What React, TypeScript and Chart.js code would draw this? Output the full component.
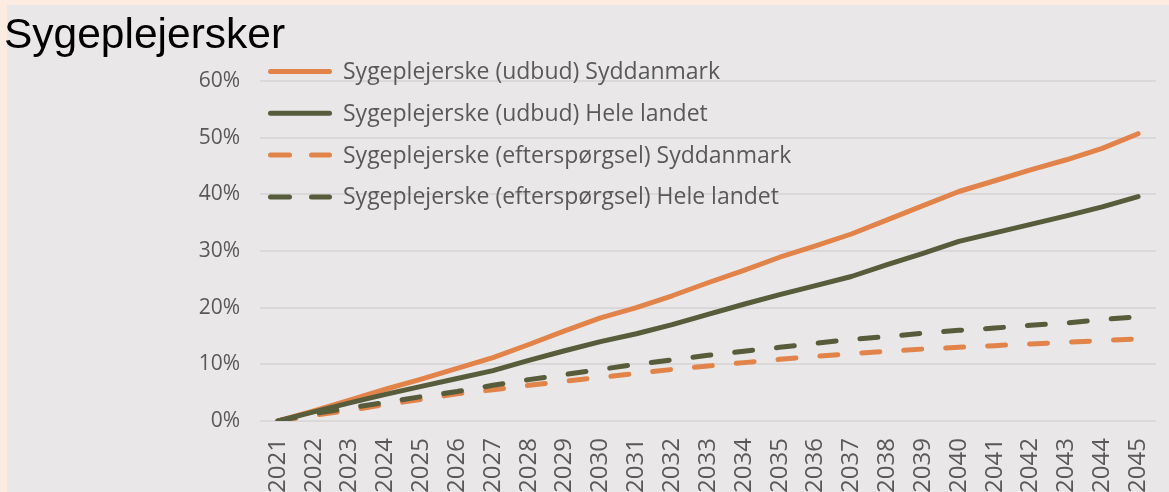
import React, { useEffect, useRef } from "react";
import { Chart, registerables } from "chart.js";

Chart.register(...registerables);

const titleText = "Sygeplejersker";

const years = [
  "2021", "2022", "2023", "2024", "2025", "2026", "2027", "2028", "2029", "2030",
  "2031", "2032", "2033", "2034", "2035", "2036", "2037", "2038", "2039", "2040",
  "2041", "2042", "2043", "2044", "2045",
];

const seriesLabels = [
  "Sygeplejerske (udbud) Syddanmark",
  "Sygeplejerske (udbud) Hele landet",
  "Sygeplejerske (efterspørgsel) Syddanmark",
  "Sygeplejerske (efterspørgsel) Hele landet",
];

// values in percent
const udbudSyddanmark = [
  0, 1.8, 3.7, 5.6, 7.4, 9.3, 11.2, 13.5, 15.9, 18.2,
  20.0, 22.1, 24.4, 26.6, 28.9, 30.9, 33.0, 35.5, 38.0, 40.5,
  42.4, 44.3, 46.1, 48.1, 50.7,
];
const udbudHeleLandet = [
  0, 1.6, 3.2, 4.7, 6.1, 7.5, 8.9, 10.7, 12.4, 14.0,
  15.4, 17.0, 18.8, 20.6, 22.3, 23.9, 25.5, 27.6, 29.6, 31.7,
  33.2, 34.7, 36.2, 37.8, 39.6,
];
const efterspSyddanmark = [
  0, 1.0, 1.9, 2.9, 3.8, 4.8, 5.5, 6.3, 7.0, 7.7,
  8.4, 9.1, 9.7, 10.3, 10.9, 11.4, 11.9, 12.3, 12.7, 13.0,
  13.3, 13.6, 13.9, 14.2, 14.5,
];
const efterspHeleLandet = [
  0, 1.3, 2.3, 3.3, 4.3, 5.2, 6.3, 7.3, 8.2, 9.1,
  10.0, 10.8, 11.6, 12.3, 13.0, 13.7, 14.4, 14.9, 15.5, 16.0,
  16.4, 16.9, 17.3, 17.9, 18.4,
];

const yMin = 0;
const yMax = 60;
const yStep = 10;

const ORANGE = "#E2834A";
const GREEN = "#575C3B";
const TEXT = "#595959";

export default function App() {
  const ref = useRef<HTMLCanvasElement>(null);

  useEffect(() => {
    if (!ref.current) return;

    const legendPlugin = {
      id: "insideLegend",
      afterDatasetsDraw(chart: any) {
        const ctx = chart.ctx;
        const area = chart.chartArea;
        const x0 = area.left + 10.5;
        const x1 = area.left + 69.5;
        const tx = area.left + 83;
        ctx.save();
        chart.data.datasets.forEach((d: any, i: number) => {
          const y = area.top - 9.5 + i * 41.8;
          ctx.beginPath();
          ctx.strokeStyle = d.borderColor;
          ctx.lineWidth = 5;
          ctx.lineCap = "round";
          ctx.setLineDash(d.borderDash && d.borderDash.length ? [19, 22] : []);
          ctx.moveTo(x0, y);
          ctx.lineTo(x1, y);
          ctx.stroke();
          ctx.setLineDash([]);
          ctx.fillStyle = TEXT;
          ctx.font = '23px "Open Sans"';
          ctx.textBaseline = "middle";
          ctx.textAlign = "left";
          ctx.fillText(d.label, tx, y + 1);
        });
        ctx.restore();
      },
    };

    const common = {
      borderWidth: 5,
      pointRadius: 0,
      pointHoverRadius: 0,
      tension: 0,
      fill: false,
      borderCapStyle: "round" as const,
      borderJoinStyle: "round" as const,
    };

    const chart = new Chart(ref.current, {
      type: "line",
      data: {
        labels: years,
        datasets: [
          { ...common, label: seriesLabels[0], data: udbudSyddanmark, borderColor: ORANGE, backgroundColor: ORANGE, order: 3 },
          { ...common, label: seriesLabels[1], data: udbudHeleLandet, borderColor: GREEN, backgroundColor: GREEN, order: 2 },
          { ...common, label: seriesLabels[2], data: efterspSyddanmark, borderColor: ORANGE, backgroundColor: ORANGE, borderDash: [18, 24], order: 1 },
          { ...common, label: seriesLabels[3], data: efterspHeleLandet, borderColor: GREEN, backgroundColor: GREEN, borderDash: [18, 24], order: 0 },
        ],
      },
      options: {
        responsive: false,
        animation: false,
        devicePixelRatio: 1,
        layout: { padding: { left: 0, right: 13, top: 81, bottom: 0 } },
        plugins: {
          legend: { display: false },
          tooltip: { enabled: false },
          title: { display: false },
        },
        scales: {
          x: {
            type: "category",
            offset: true,
            grid: { display: false, drawTicks: false },
            border: { display: false },
            ticks: {
              color: TEXT,
              font: { family: "Open Sans", size: 24 },
              minRotation: 90,
              maxRotation: 90,
              autoSkip: false,
              padding: 17,
            },
            afterFit(scale: any) {
              scale.height = 71;
              scale.paddingLeft = 0;
              scale.paddingRight = 0;
            },
          },
          y: {
            min: yMin,
            max: yMax,
            grid: { color: "#DAD8D9", lineWidth: 2, drawTicks: false },
            border: { display: false },
            ticks: {
              stepSize: yStep,
              color: TEXT,
              font: { family: "Open Sans", size: 21 },
              padding: 20,
              callback: (v: any) => `${v}%`,
            },
            afterFit(scale: any) {
              scale.width = 260;
              scale.paddingTop = 0;
              scale.paddingBottom = 0;
            },
          },
        },
      },
      plugins: [legendPlugin],
    });

    return () => chart.destroy();
  }, []);

  return (
    <div
      style={{
        position: "fixed",
        left: 0,
        top: 0,
        width: 1169,
        height: 492,
        background: "rgb(251,235,224)",
        overflow: "hidden",
      }}
    >
      <div
        style={{
          position: "absolute",
          left: 7,
          top: 5,
          right: 0,
          bottom: 0,
          background: "#E9E7E8",
        }}
      />
      <canvas
        ref={ref}
        width={1169}
        height={492}
        style={{ position: "absolute", left: 0, top: 0, width: 1169, height: 492 }}
      />
      <div
        style={{
          position: "absolute",
          left: 4,
          top: 13,
          fontFamily: '"Liberation Sans", Arial, sans-serif',
          fontSize: 42.5,
          lineHeight: "42px",
          color: "#000",
          whiteSpace: "nowrap",
        }}
      >
        {titleText}
      </div>
    </div>
  );
}
